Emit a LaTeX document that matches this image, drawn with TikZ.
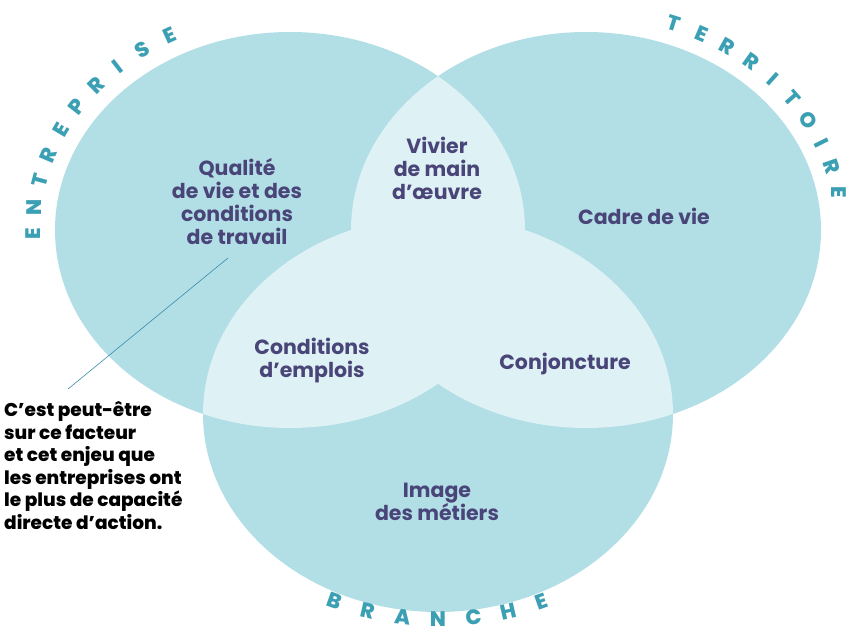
\documentclass[tikz,border=0pt]{standalone}
\usepackage{fontspec}
\setmainfont{Poppins}
\newfontfamily\boldface{Poppins Bold}
\newfontfamily\heavyface{Poppins ExtraBold}
\usetikzlibrary{calc,positioning}

\definecolor{zone}{HTML}{B2DEE6}
\definecolor{overlap}{HTML}{DEF1F5}
\definecolor{ink}{HTML}{4A4578}
\definecolor{sector}{HTML}{3CA0B4}
\definecolor{leader}{HTML}{3C8CAA}

\begin{document}
\begin{tikzpicture}[x=1pt,y=1pt,
  factor/.style={font=\fontsize{20.5}{23}\selectfont\boldface,text=ink,align=center},
  note/.style={font=\fontsize{18.5}{22.6}\selectfont\heavyface,text=black,align=left,anchor=west,inner sep=0pt},
  letter/.style={font=\fontsize{21}{21}\selectfont\heavyface,text=sector,inner sep=0pt}]

\useasboundingbox (0,0) rectangle (852,635);

\coordinate (entreprise) at (290,405);
\coordinate (territoire) at (586,405);
\coordinate (branche)    at (438,221);

% the three sets
\fill[zone] (entreprise) ellipse [x radius=235pt,y radius=198pt];
\fill[zone] (territoire) ellipse [x radius=235pt,y radius=198pt];
\fill[zone] (branche)    ellipse [x radius=235pt,y radius=198pt];

% overlaps
\begin{scope}
  \clip (entreprise) ellipse [x radius=235pt,y radius=198pt];
  \fill[overlap] (territoire) ellipse [x radius=235pt,y radius=198pt];
  \fill[overlap] (branche)    ellipse [x radius=235pt,y radius=198pt];
\end{scope}
\begin{scope}
  \clip (territoire) ellipse [x radius=235pt,y radius=198pt];
  \fill[overlap] (branche) ellipse [x radius=235pt,y radius=198pt];
\end{scope}

% names round the sets
\foreach \ch/\t [count=\i] in {E/181,N/174,T/167,R/160,E/153,P/146,R/139,I/132,S/125,E/118}
  \node[letter,rotate={atan2(sin(\t)/220,cos(\t)/257)-90}] (ent-\i) at ($(entreprise)+(\t:257pt and 220pt)$) {\ch};
\foreach \ch/\t [count=\i] in {T/70,E/63.3,R/56.7,R/50,I/43.3,T/36.7,O/30,I/23.3,R/16.7,E/10}
  \node[letter,rotate={atan2(sin(\t)/220,cos(\t)/257)-90}] (ter-\i) at ($(territoire)+(\t:257pt and 220pt)$) {\ch};
\foreach \ch/\t [count=\i] in {B/-114,R/-106,A/-98,N/-90,C/-82,H/-74,E/-66}
  \node[letter,rotate={atan2(sin(\t)/205,cos(\t)/255)+90}] (bra-\i) at ($(branche)+(\t:255pt and 205pt)$) {\ch};

% factors
\node[factor] (qualite) at (237,433) {Qualité\\de vie et des\\conditions\\de travail};
\node[factor] (vivier)  at (437,467) {Vivier\\de main\\d’œuvre};
\node[factor] (cadre)   at (644,419) {Cadre de vie};
\node[factor] (emplois) at (312,274.5) {Conditions\\d’emplois};
\node[factor] (conj)    at (565,271) {Conjoncture};
\node[factor] (image)   at (437,133.5) {Image\\des métiers};

\node[note] (remark) at (4,169.5) {C’est peut-être\\sur ce facteur\\et cet enjeu que\\les entreprises ont\\le plus de capacité\\directe d’action.};

\coordinate (tip)  at (228,377);
\coordinate (foot) at (68,246);
\draw[leader,line width=0.6pt] (tip) -- (foot);

\end{tikzpicture}
\end{document}
